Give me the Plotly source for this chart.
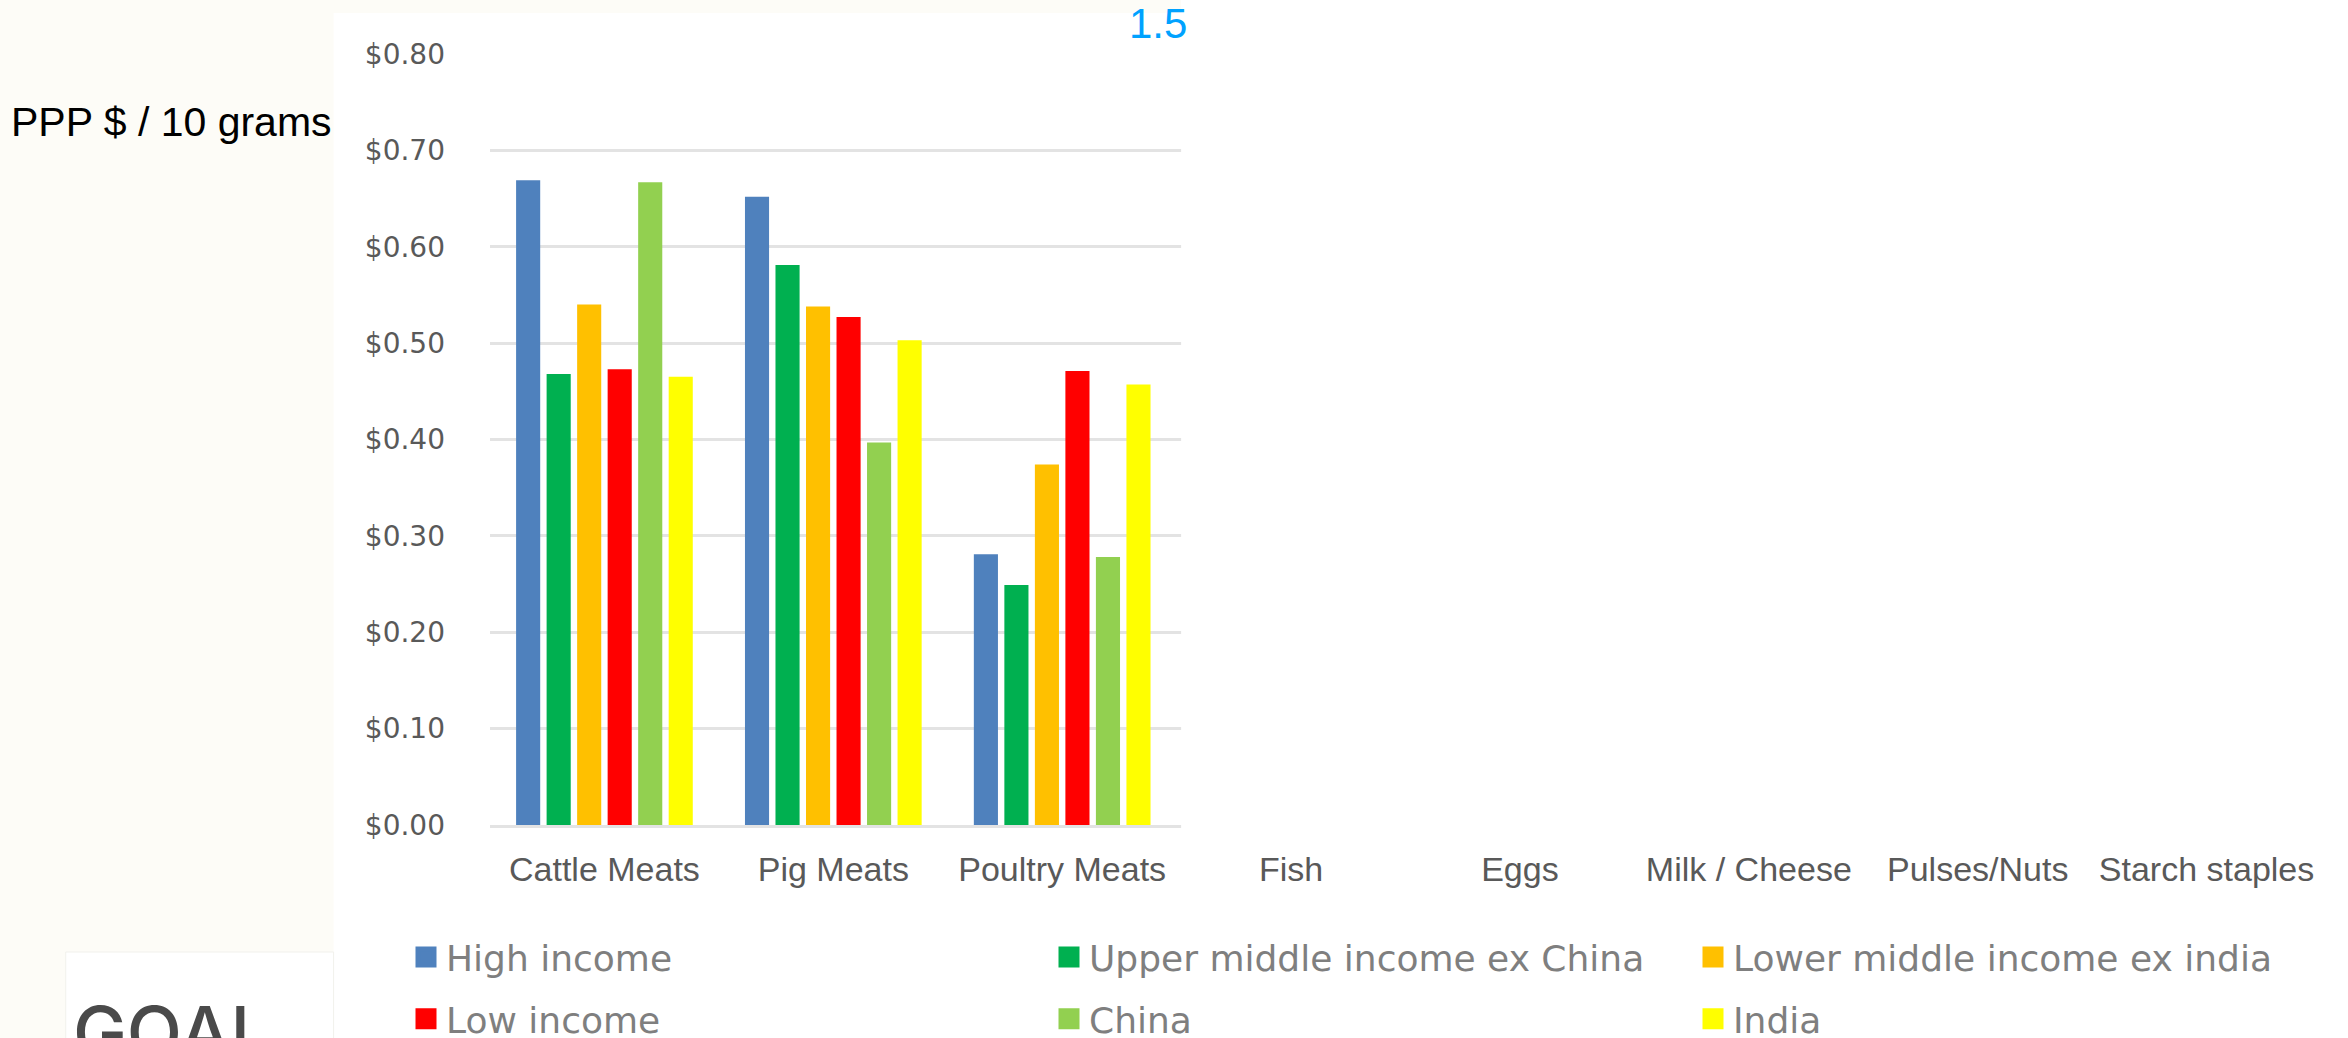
import plotly.graph_objects as go

# ---- data ----
categories = ["Cattle Meats", "Pig Meats", "Poultry Meats", "Fish", "Eggs",
              "Milk / Cheese", "Pulses/Nuts", "Starch staples"]
high_income = [0.669, 0.652, 0.281, None, None, None, None, None]
upper_middle_ex_china = [0.468, 0.581, 0.249, None, None, None, None, None]
lower_middle_ex_india = [0.540, 0.538, 0.374, None, None, None, None, None]
low_income = [0.473, 0.527, 0.471, None, None, None, None, None]
china = [0.667, 0.397, 0.278, None, None, None, None, None]
india = [0.465, 0.503, 0.457, None, None, None, None, None]

series_names = ["High income", "Upper middle income ex China", "Lower middle income ex india",
                "Low income", "China", "India"]
series_values = [high_income, upper_middle_ex_china, lower_middle_ex_india, low_income, china, india]
series_colors = ["#4F81BD", "#00B050", "#FFC000", "#FF0000", "#92D050", "#FFFF00"]
series_legend = ["legend", "legend2", "legend3", "legend", "legend2", "legend3"]

y_tick_values = [0.0, 0.1, 0.2, 0.3, 0.4, 0.5, 0.6, 0.7, 0.8]
y_tick_labels = ["$0.00", "$0.10", "$0.20", "$0.30", "$0.40", "$0.50", "$0.60", "$0.70", "$0.80"]

# ---- layout geometry (pixels) ----
W, H = 2348, 1038
ML, MR, MT, MB = 489.5, 26.5, 54, 213
PW = W - ML - MR
PH = H - MT - MB


def px_x(p):
    return (p - ML) / PW


def px_y(p):
    return (H - MB - p) / PH


fig = go.Figure()
for name, vals, col in zip(series_names, series_values, series_colors):
    fig.add_trace(go.Bar(x=categories, y=vals, name=name, showlegend=False, legendgroup=name,
                         marker=dict(color=col, line=dict(width=0))))
# legend entries (larger square keys, as in the reference)
for name, col, lg in zip(series_names, series_colors, series_legend):
    fig.add_trace(go.Scatter(x=[None], y=[None], mode="markers", name=name, legend=lg,
                             legendgroup=name, showlegend=True, hoverinfo="skip",
                             marker=dict(symbol="square", size=16, color=col,
                                         line=dict(width=5, color=col))))

cream = "#FDFCF7"
shapes = [
    # cream surround on the left and top
    dict(type="rect", xref="paper", yref="paper", x0=px_x(-5), x1=px_x(333), y0=px_y(H + 5), y1=px_y(-5),
         fillcolor=cream, line=dict(width=0), layer="below"),
    dict(type="rect", xref="paper", yref="paper", x0=px_x(-5), x1=px_x(1181), y0=px_y(13), y1=px_y(-5),
         fillcolor=cream, line=dict(width=0), layer="below"),
    # white logo box
    dict(type="rect", xref="paper", yref="paper", x0=px_x(65), x1=px_x(333), y0=px_y(H + 5), y1=px_y(952),
         fillcolor="white", line=dict(width=1, color="#F1F1EC"), layer="below"),
    # white overlay hiding the right part of the chart
    dict(type="rect", xref="paper", yref="paper", x0=px_x(1181), x1=px_x(W + 5), y0=px_y(845), y1=px_y(-5),
         fillcolor="white", line=dict(width=0), layer="above"),
]

annotations = [
    dict(text="PPP $ / 10 grams", xref="paper", yref="paper", x=px_x(8), y=px_y(122),
         xanchor="left", yanchor="middle", showarrow=False,
         font=dict(family="Liberation Sans, Arial, sans-serif", size=41, color="#000000")),
    dict(text="1.5", xref="paper", yref="paper", x=px_x(1127), y=px_y(24),
         xanchor="left", yanchor="middle", showarrow=False,
         font=dict(family="Liberation Sans Narrow, Liberation Sans, sans-serif", size=42, color="#00A2FF")),
    dict(text="GOAL", xref="paper", yref="paper", x=px_x(70), y=px_y(986),
         xanchor="left", yanchor="top", showarrow=False,
         font=dict(family="Inter, Lato, sans-serif", size=72, color="#4A4A4A", weight=500)),
]

legend_font = dict(family="DejaVu Sans, sans-serif", size=36, color="#7F7F7F")


def legend_at(px_left):
    return dict(
        orientation="v", xref="container", yref="container",
        x=px_left / W, y=1 - 927 / H, xanchor="left", yanchor="top",
        font=legend_font, bgcolor="rgba(0,0,0,0)",
        traceorder="grouped", tracegroupgap=12,
    )


fig.update_layout(
    width=W, height=H, autosize=False,
    margin=dict(l=ML, r=MR, t=MT, b=MB, pad=0, autoexpand=False),
    paper_bgcolor="white", plot_bgcolor="white",
    barmode="group", bargap=0.2, bargroupgap=0.21,
    shapes=shapes, annotations=annotations,
    legend=legend_at(406),
    legend2=legend_at(1049),
    legend3=legend_at(1693),
    showlegend=True,
)

fig.update_xaxes(
    type="category", categoryorder="array", categoryarray=categories,
    range=[-0.5, len(categories) - 0.5], automargin=False,
    showgrid=False, zeroline=False, showline=True, linecolor="#E3E3E3", linewidth=3,
    ticks="", ticklabelstandoff=12, tickangle=0,
    tickfont=dict(family="Liberation Sans, Arial, sans-serif", size=34, color="#595959"),
)
fig.update_yaxes(
    range=[0, 0.8], tickmode="array", tickvals=y_tick_values, ticktext=y_tick_labels,
    automargin=False,
    showgrid=True, gridcolor="#E3E3E3", gridwidth=3, zeroline=False, showline=False,
    ticks="", ticklabelstandoff=44,
    tickfont=dict(family="DejaVu Sans, sans-serif", size=28, color="#595959"),
)

fig.write_html("out.html")
